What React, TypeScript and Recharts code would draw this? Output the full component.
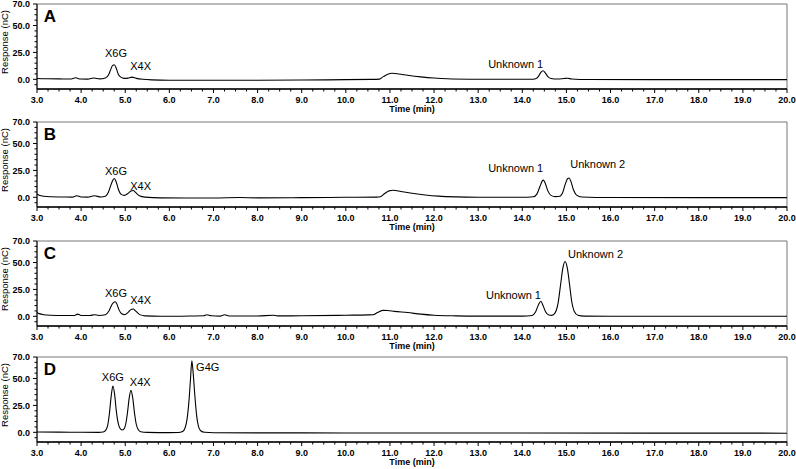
import React from "react"
import { LineChart, Line, XAxis, YAxis, ReferenceArea, ReferenceDot } from "recharts"

// chromatogram traces: [time (min), response (nC)]
const traceA: [number, number][] = [
  [3.0, 0.8], [3.2, 0.5], [3.5, 0.4], [3.75, 0.3], [3.88, 1.4], [3.98, 0.3], [4.15, 0.2], [4.29, 1.2],
  [4.42, 0.4], [4.55, 1.2], [4.62, 4], [4.67, 9], [4.71, 12.8], [4.75, 13.5], [4.79, 11], [4.84, 5],
  [4.9, 2], [4.98, 0.9], [5.06, 1.1], [5.15, 2], [5.25, 0.9], [5.4, 0], [5.6, -0.5], [6.0, -0.8],
  [7.0, -0.8], [8.0, -0.9], [9.0, -0.7], [10.0, -0.3], [10.6, -0.1], [10.76, 0.2], [10.85, 2.5],
  [10.95, 4.8], [11.05, 5.6], [11.2, 5], [11.4, 3.8], [11.7, 2.3], [12.0, 1.2], [12.3, 0.5],
  [12.8, 0.1], [13.5, 0], [14.2, 0.1], [14.3, 0.6], [14.37, 3], [14.42, 6.5], [14.47, 8], [14.52, 6],
  [14.58, 2.5], [14.65, 0.8], [14.8, 0.3], [14.95, 0.8], [15.02, 1], [15.12, 0.3], [15.5, -0.2],
  [17.0, -0.3], [20.0, -0.3],
]

const traceB: [number, number][] = [
  [3.0, 3], [3.05, 2], [3.15, 1], [3.3, 0.5], [3.6, 0.3], [3.8, 0.2], [3.9, 1.5], [4.0, 0.3],
  [4.15, 0.2], [4.3, 1.5], [4.45, 0.3], [4.56, 1.3], [4.62, 5], [4.68, 12], [4.72, 16], [4.75, 17.5],
  [4.79, 15], [4.84, 8], [4.9, 3], [4.98, 1.8], [5.06, 3.5], [5.13, 5.8], [5.18, 6.3], [5.24, 4.3],
  [5.32, 1.5], [5.45, 0.2], [5.8, -0.5], [7.0, -0.6], [7.6, -0.2], [8.0, -0.5], [9.0, -0.3],
  [10.0, 0], [10.7, 0.2], [10.78, 0.5], [10.88, 3.5], [10.98, 6], [11.08, 6.5], [11.25, 5.4],
  [11.5, 3.8], [11.8, 2.2], [12.1, 1.1], [12.5, 0.4], [13.0, 0.1], [14.0, 0], [14.25, 0.5],
  [14.33, 3], [14.4, 10], [14.45, 15], [14.48, 16], [14.52, 13], [14.58, 6], [14.65, 1.8],
  [14.75, 0.6], [14.85, 1], [14.92, 5], [14.98, 13], [15.03, 17.5], [15.06, 18], [15.1, 15],
  [15.16, 7], [15.23, 2], [15.35, 0.3], [16.0, -0.2], [20.0, -0.3],
]

const traceC: [number, number][] = [
  [3.0, 3.5], [3.05, 2.5], [3.15, 1.5], [3.3, 1], [3.6, 0.8], [3.85, 0.8], [3.92, 2], [4.0, 0.8],
  [4.2, 0.7], [4.3, 1.5], [4.4, 0.8], [4.55, 1.5], [4.63, 5], [4.7, 11], [4.74, 13], [4.77, 13.5],
  [4.81, 11.5], [4.86, 6], [4.92, 2.3], [4.99, 1.5], [5.06, 3.5], [5.12, 6], [5.18, 6.8], [5.24, 4.8],
  [5.32, 1.8], [5.45, 0.4], [5.8, 0], [6.5, 0.3], [6.78, 0.5], [6.85, 1.5], [6.95, 0.5], [7.15, 0.2],
  [7.25, 1.5], [7.35, 0.3], [8.0, 0.3], [8.35, 1], [8.45, 0.4], [9.0, 0.5], [10.0, 1], [10.5, 1.3],
  [10.62, 1.5], [10.72, 3.5], [10.85, 5.5], [10.95, 5.4], [11.1, 4.6], [11.4, 3.5], [11.7, 2],
  [12.0, 1], [12.5, 0.4], [13.0, 0.2], [14.0, 0.2], [14.22, 0.8], [14.3, 4], [14.37, 11], [14.42, 14],
  [14.47, 10], [14.53, 4], [14.6, 1.3], [14.67, 0.9], [14.74, 3], [14.81, 12], [14.87, 30],
  [14.92, 45], [14.97, 51], [15.02, 45], [15.07, 30], [15.12, 14], [15.18, 4.5], [15.26, 1],
  [15.4, 0.2], [16.0, 0], [20.0, 0],
]

const traceD: [number, number][] = [
  [3.0, 0.3], [3.5, 0.2], [4.0, 0], [4.4, -0.1], [4.5, 0.3], [4.55, 1.5], [4.6, 6], [4.64, 17],
  [4.68, 33], [4.72, 43], [4.76, 35], [4.8, 19], [4.84, 8.5], [4.88, 3.8], [4.93, 2.2], [4.97, 3],
  [5.01, 7.5], [5.05, 18], [5.09, 32], [5.13, 39], [5.17, 32], [5.21, 18], [5.25, 7.5], [5.29, 2.8],
  [5.35, 0.6], [5.5, -0.1], [6.0, -0.3], [6.2, -0.2], [6.3, 0.8], [6.36, 4.5], [6.41, 15], [6.45, 32],
  [6.48, 50], [6.51, 66.5], [6.54, 55], [6.58, 33], [6.62, 15], [6.66, 5.5], [6.71, 1.5], [6.8, 0],
  [7.0, -0.4], [8.0, -0.5], [10.0, -0.6], [14.0, -0.7], [20.0, -0.8],
]

// peak annotations: [text, time, response]
const labelsA: [string, number, number][] = [["X6G", 4.79, 24.4], ["X4X", 5.35, 12.4], ["Unknown  1", 13.85, 14.2]]
const labelsB: [string, number, number][] = [["X6G", 4.79, 24.6], ["X4X", 5.35, 10.5], ["Unknown  1", 13.85, 27.4], ["Unknown  2", 15.71, 31]]
const labelsC: [string, number, number][] = [["X6G", 4.79, 21.5], ["X4X", 5.35, 15], ["Unknown  1", 13.8, 19.6], ["Unknown  2", 15.66, 58]]
const labelsD: [string, number, number][] = [["X6G", 4.72, 51.2], ["X4X", 5.34, 46.5], ["G4G", 6.87, 60.5]]

const panelLetters = ["A", "B", "C", "D"]

const xMajor = [3, 4, 5, 6, 7, 8, 9, 10, 11, 12, 13, 14, 15, 16, 17, 18, 19, 20]
const yMajor = [0, 25, 50, 70]

const Y_MIN = -9
const Y_MAX = 70

// minor ticks every 0.25 min and 5 nC
const xTicks = xMajor.flatMap((v, i) => (i < xMajor.length - 1 ? [v, v + 0.25, v + 0.5, v + 0.75] : [v]))
const yTicks: number[] = []
for (let v = -5; v <= Y_MAX; v += 5) yTicks.push(v)

function XTick(props: any) {
  const { x, y, payload } = props
  const v = payload.value
  const major = Math.abs(v - Math.round(v)) < 1e-6
  return (
    <g>
      <line x1={x} x2={x} y1={y} y2={y + (major ? 4 : 2.5)} stroke="#000" strokeWidth={1} />
      {major && (
        <text x={x} y={y + 13.5} textAnchor="middle" fontSize={9} fontWeight="bold" fill="#000">
          {v.toFixed(1)}
        </text>
      )}
    </g>
  )
}

function YTick(props: any) {
  const { x, y, payload } = props
  const v = payload.value
  const major = yMajor.includes(v)
  return (
    <g>
      <line x1={x} x2={x - (major ? 4 : 2.5)} y1={y} y2={y} stroke="#000" strokeWidth={1} />
      {major && (
        <text x={x - 7} y={y + 3.2} textAnchor="end" fontSize={9} fontWeight="bold" fill="#000">
          {v.toFixed(1)}
        </text>
      )}
    </g>
  )
}

function Panel({ letter, trace, labels, top }: { letter: string; trace: [number, number][]; labels: [string, number, number][]; top: number }) {
  const data = trace.map(([t, r]) => ({ t, r }))
  return (
    <div style={{ position: "absolute", left: 0, top }}>
      <LineChart width={796} height={118} data={data} margin={{ top: 4, right: 9, bottom: 0, left: 0 }}>
        <ReferenceArea x1={3} x2={20} y1={Y_MIN} y2={Y_MAX} fill="none" stroke="#777" strokeWidth={1} />
        <XAxis
          type="number"
          dataKey="t"
          domain={[3, 20]}
          ticks={xTicks}
          interval={0}
          tickSize={0}
          tickMargin={0}
          tickLine={false}
          tick={(p: any) => <XTick {...p} />}
          axisLine={{ stroke: "#000", strokeWidth: 1.5 }}
          height={29}
          allowDataOverflow
          label={{
            content: (p: any) => {
              const vb = p.viewBox
              return (
                <text x={vb.x + vb.width / 2} y={vb.y + 23} textAnchor="middle" fontSize={9} fontWeight="bold" fill="#000">
                  Time (min)
                </text>
              )
            },
          }}
        />
        <YAxis
          type="number"
          domain={[Y_MIN, Y_MAX]}
          ticks={yTicks}
          interval={0}
          tickSize={0}
          tickMargin={0}
          tickLine={false}
          tick={(p: any) => <YTick {...p} />}
          axisLine={{ stroke: "#000", strokeWidth: 1 }}
          width={37}
          allowDataOverflow
          label={{
            content: (p: any) => {
              const vb = p.viewBox
              const cy = vb.y + 38
              return (
                <text x={8} y={cy} transform={`rotate(-90, 8, ${cy})`} textAnchor="middle" fontSize={9.5} fill="#000">
                  Response (nC)
                </text>
              )
            },
          }}
        />
        <Line type="monotone" dataKey="r" stroke="#000" strokeWidth={1.1} dot={false} isAnimationActive={false} />
        <ReferenceDot
          x={3.29}
          y={58.5}
          r={0}
          fill="none"
          stroke="none"
          label={{ value: letter, position: "center", fontSize: 17, fontWeight: "bold", fill: "#000" }}
        />
        {labels.map(([text, t, r]) => (
          <ReferenceDot
            key={text}
            x={t}
            y={r}
            r={0}
            fill="none"
            stroke="none"
            label={{ value: text, position: "center", fontSize: 11, fill: "#000" }}
          />
        ))}
      </LineChart>
    </div>
  )
}

export default function App() {
  const traces = [traceA, traceB, traceC, traceD]
  const labels = [labelsA, labelsB, labelsC, labelsD]
  const tops = [0, 118, 237, 353]
  return (
    <div
      style={{
        position: "absolute",
        left: 0,
        top: 0,
        width: 796,
        height: 469,
        background: "#fff",
        fontFamily: "'Liberation Sans', Arial, sans-serif",
        overflow: "hidden",
      }}
    >
      {panelLetters.map((letter, i) => (
        <Panel key={letter} letter={letter} trace={traces[i]} labels={labels[i]} top={tops[i]} />
      ))}
    </div>
  )
}
